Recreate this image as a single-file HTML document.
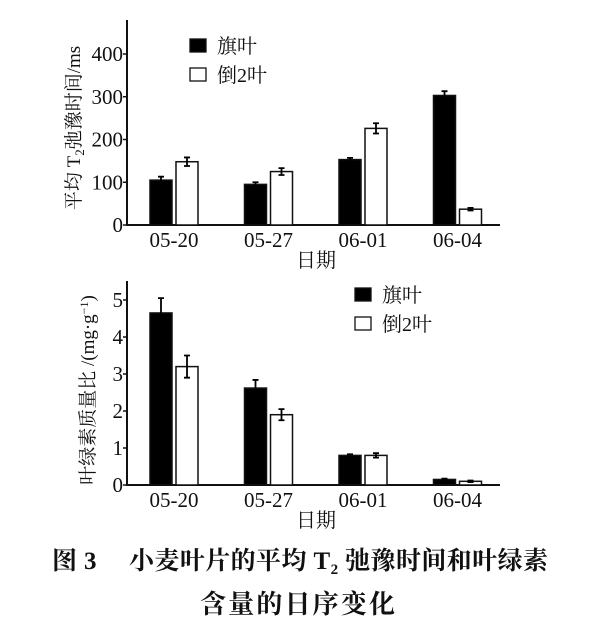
<!DOCTYPE html>
<html><head><meta charset="utf-8"><style>
body{margin:0;background:#fff;width:600px;height:627px;overflow:hidden}
svg text{font-family:"Liberation Serif","Noto Serif CJK SC",serif;fill:#111}
</style></head><body>
<svg width="600" height="627">
<g id="c1"></g>
<g id="c2"></g>
<text x="52" y="569" font-size="25" font-weight="bold" textLength="496" lengthAdjust="spacing" style="font-family:'Liberation Serif','Noto Serif CJK SC',serif">图 3　 小麦叶片的平均 T<tspan font-size="15" dy="5">2</tspan><tspan dy="-5"> 弛豫时间和叶绿素</tspan></text>
<text x="200" y="613" font-size="26" font-weight="bold" textLength="195" lengthAdjust="spacing" style="font-family:'Liberation Serif','Noto Serif CJK SC',serif">含量的日序变化</text>
</svg>
<script>
const categories=["05-20","05-27","06-01","06-04"];
const t2Flag=[105,95,153,303];
const t2FlagErr=[8,5,4,10];
const t2Second=[148,125,226,37];
const t2SecondErr=[10,8,12,3];
const t2Ticks=[0,100,200,300,400];
const chlFlag=[4.65,2.62,0.8,0.15];
const chlFlagErr=[0.4,0.22,0.03,0.02];
const chlSecond=[3.2,1.9,0.8,0.1];
const chlSecondErr=[0.3,0.15,0.06,0.02];
const chlTicks=[0,1,2,3,4,5];
const NS="http://www.w3.org/2000/svg";
function mk(p,t,a){const e=document.createElementNS(NS,t);for(const k in a)e.setAttribute(k,a[k]);p.appendChild(e);return e;}
function chart(g,cfg){
 const x0=127,x1=500,base=cfg.base,top=cfg.top;
 const y=v=>base-(v/cfg.max)*(base-cfg.vTop);
 const cx=i=>174+i*94.5;
 let ax=mk(g,'path',{d:`M${x0},${top}V${base}H${x1}`,stroke:'#111','stroke-width':2,fill:'none'});
 
 cfg.ticks.forEach(t=>{
  let l=mk(g,'line',{x1:x0-4,x2:x0,y1:y(t),y2:y(t),stroke:'#111','stroke-width':1.5});
  
  let tx=mk(g,'text',{x:x0-4,y:y(t)+7,'text-anchor':'end','font-size':21});tx.textContent=t;
  
 });
 categories.forEach((c,i)=>{
  [[cfg.a,cfg.ae,'#000',-24],[cfg.b,cfg.be,'#fff',2]].forEach(([arr,err,fill,off],k)=>{
   const v=arr[i],bx=cx(i)+off,yy=y(v);
   let r=mk(g,'rect',{x:bx,y:yy,width:22,height:base-yy,fill:fill,stroke:'#111','stroke-width':1.5});
   
   
   const ex=bx+11,e1=y(v+err[i]),e2=y(v-err[i]);
   let e=mk(g,'path',{d:`M${ex},${e1}V${e2}M${ex-3},${e1}H${ex+3}M${ex-3},${e2}H${ex+3}`,stroke:'#000','stroke-width':1.8,fill:'none'});
   
   
  });
  let tx=mk(g,'text',{x:cx(i),y:base+22,'text-anchor':'middle','font-size':21});tx.textContent=c;
  
 });
 let xt=mk(g,'text',{x:316,y:base+42,'text-anchor':'middle','font-size':20});xt.textContent='日期';
 
 let yt=mk(g,'text',{transform:`translate(${cfg.ytx},${cfg.yty}) rotate(-90)`,'text-anchor':'middle','font-size':19});yt.innerHTML=cfg.ytitle;
 
 [['#000','旗叶',0],['#fff','倒2叶',29]].forEach(([f,t,dy])=>{
  let s=mk(g,'rect',{x:cfg.lx,y:cfg.ly+dy,width:16,height:13,fill:f,stroke:'#111','stroke-width':1.3});
  
  let lt=mk(g,'text',{x:cfg.lx+27,y:cfg.ly+dy+14,'font-size':20});lt.textContent=t;
  
 });
}
chart(document.getElementById('c1'),{base:225,top:20,vTop:54,max:400,ticks:t2Ticks,a:t2Flag,ae:t2FlagErr,b:t2Second,be:t2SecondErr,ytx:80,yty:128,ytitle:'平均 T<tspan font-size="13" dy="4">2</tspan><tspan dy="-4">弛豫时间/ms</tspan>',lx:190,ly:39});
chart(document.getElementById('c2'),{base:485,top:281,vTop:300,max:5,ticks:chlTicks,a:chlFlag,ae:chlFlagErr,b:chlSecond,be:chlSecondErr,ytx:94,yty:390,ytitle:'叶绿素质量比 /(mg·g<tspan font-size="12" dy="-6">−1</tspan><tspan dy="6">)</tspan>',lx:355,ly:288});
</script>
</body></html>
